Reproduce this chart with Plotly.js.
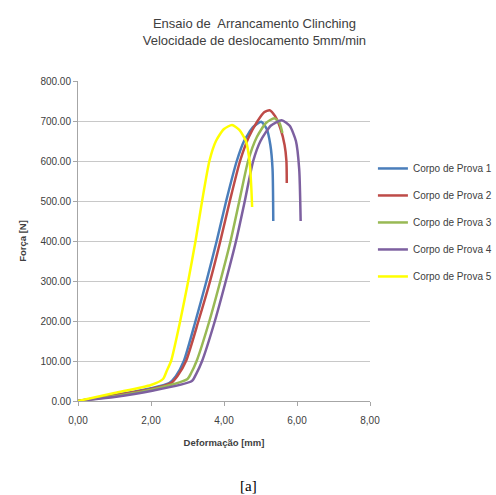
<!DOCTYPE html>
<html>
<head>
<meta charset="utf-8">
<script src="https://cdn.plot.ly/plotly-3.0.1.min.js"></script>
<style>html,body{margin:0;padding:0;background:#fff;}#chart{width:496px;height:495px;}</style>
</head>
<body>
<div id="chart"></div>
<script>
// Corpo de Prova 1 (blue)
const cp1X = [0, 1.0, 2.0, 2.5, 2.68, 2.9, 3.22, 3.52, 3.8, 4.06, 4.35, 4.55, 4.8, 5.02, 5.17, 5.27, 5.33, 5.35];
const cp1Y = [0, 15, 32, 45, 62, 100, 200, 300, 400, 500, 600, 650, 685, 698, 680, 640, 580, 450];
// Corpo de Prova 2 (red)
const cp2X = [0, 1.0, 2.0, 2.55, 2.73, 2.96, 3.3, 3.62, 3.9, 4.16, 4.44, 4.68, 4.92, 5.1, 5.25, 5.4, 5.55, 5.66, 5.71, 5.72];
const cp2Y = [0, 14, 30, 45, 63, 100, 200, 300, 400, 500, 600, 660, 700, 722, 727, 712, 680, 640, 600, 545];
// Corpo de Prova 3 (green)
const cp3X = [0, 1.0, 2.0, 3.0, 3.1, 3.25, 3.6, 3.9, 4.18, 4.42, 4.66, 4.9, 5.15, 5.38, 5.52, 5.6];
const cp3Y = [0, 12, 28, 55, 70, 100, 200, 300, 400, 500, 600, 660, 695, 707, 695, 670];
// Corpo de Prova 4 (purple)
const cp4X = [0, 1.0, 2.0, 3.12, 3.24, 3.4, 3.75, 4.05, 4.33, 4.57, 4.8, 5.0, 5.28, 5.58, 5.8, 5.97, 6.06, 6.1];
const cp4Y = [0, 10, 25, 50, 68, 100, 200, 300, 400, 500, 600, 650, 688, 702, 688, 650, 580, 450];
// Corpo de Prova 5 (yellow)
const cp5X = [0, 1.0, 2.0, 2.33, 2.43, 2.55, 2.8, 3.02, 3.22, 3.4, 3.6, 3.78, 4.0, 4.22, 4.42, 4.6, 4.7, 4.75, 4.77];
const cp5Y = [0, 20, 40, 55, 75, 100, 200, 300, 400, 500, 600, 650, 680, 690, 678, 650, 600, 530, 485];

const seriesNames = ["Corpo de Prova 1", "Corpo de Prova 2", "Corpo de Prova 3", "Corpo de Prova 4", "Corpo de Prova 5"];
const seriesColors = ["#4a7ebb", "#be4b48", "#98b954", "#7d60a0", "#ffff00"];
const xTickVals = [0, 2, 4, 6, 8];
const xTickText = ["0,00", "2,00", "4,00", "6,00", "8,00"];

const xs = [cp1X, cp2X, cp3X, cp4X, cp5X];
const ys = [cp1Y, cp2Y, cp3Y, cp4Y, cp5Y];

const FONT = "'Liberation Sans', Arial, sans-serif";
const SERIF = "'Liberation Serif', 'DejaVu Serif', serif";
const TXT = "#404040";

const traces = seriesNames.map((n, i) => ({
  x: xs[i], y: ys[i], name: n, type: "scatter", mode: "lines",
  legendgroup: "g" + i,
  line: {color: seriesColors[i], width: 2.5, shape: "spline", smoothing: 0.6}
}));

const layout = {
  width: 496, height: 495,
  margin: {l: 78, r: 126, t: 81, b: 94, autoexpand: false},
  paper_bgcolor: "#ffffff", plot_bgcolor: "#ffffff",
  font: {family: FONT, color: TXT, size: 10},
  title: {
    text: "Ensaio de  Arrancamento Clinching<br>Velocidade de deslocamento 5mm/min",
    font: {family: FONT, size: 13, color: TXT},
    x: 0.513, xanchor: "center", y: 0.943, yanchor: "top"
  },
  showlegend: true,
  legend: {
    x: 1.01, xanchor: "left", y: 0.772, yanchor: "top",
    font: {family: FONT, size: 10, color: TXT},
    tracegroupgap: 8, itemwidth: 30, bgcolor: "rgba(0,0,0,0)"
  },
  xaxis: {
    range: [0, 8], tickvals: xTickVals, ticktext: xTickText,
    showgrid: false, zeroline: false, showline: true, linecolor: "#a6a6a6", linewidth: 1,
    ticks: "outside", ticklen: 4, tickcolor: "#a6a6a6", ticklabelstandoff: 6,
    tickfont: {family: FONT, size: 10, color: TXT},
    title: {text: "<b>Deformação [mm]</b>", font: {family: FONT, size: 9.5, color: TXT}, standoff: 14}
  },
  yaxis: {
    range: [0, 800], dtick: 100, tickformat: ".2f",
    showgrid: true, gridcolor: "#c8c8c8", gridwidth: 1,
    zeroline: false, showline: true, linecolor: "#a6a6a6", linewidth: 1,
    ticks: "outside", ticklen: 4, tickcolor: "#a6a6a6",
    tickfont: {family: FONT, size: 10, color: TXT},
    title: {text: "<b>Força [N]</b>", font: {family: FONT, size: 9.5, color: TXT}, standoff: 12}
  },
  annotations: [{
    text: "[a]", xref: "paper", yref: "paper", x: 0.585, y: -0.265,
    xanchor: "center", yanchor: "middle", showarrow: false,
    font: {family: SERIF, size: 15, color: "#000000"}
  }]
};

Plotly.newPlot("chart", traces, layout, {displayModeBar: false, staticPlot: true});
</script>
</body>
</html>
